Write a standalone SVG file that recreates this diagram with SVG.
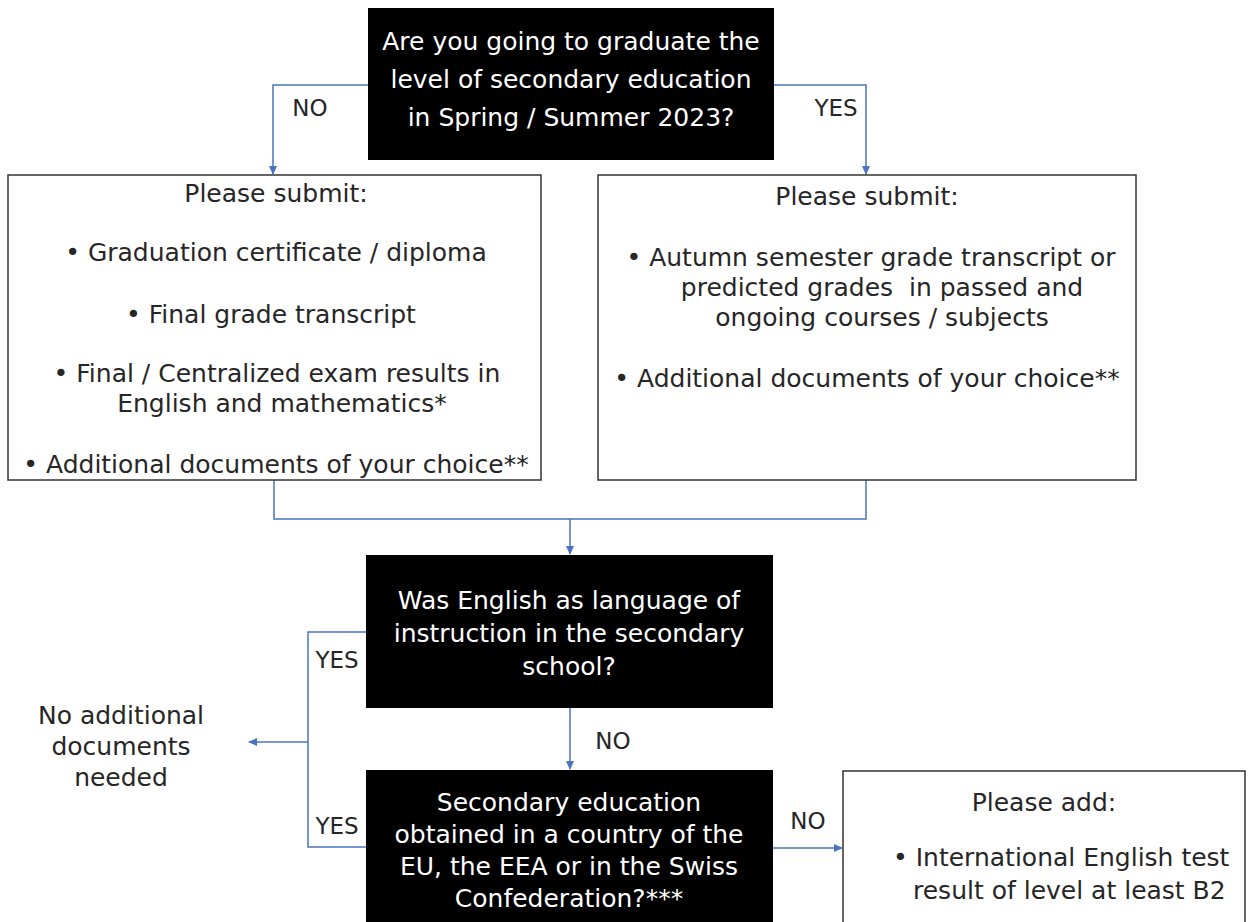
<svg xmlns="http://www.w3.org/2000/svg" width="1253" height="922" viewBox="0 0 1253 922">
<style>
.dark{fill:#000}
.box{fill:#fff;stroke:#333;stroke-width:1.5}
.wt{fill:#fff;font-family:"DejaVu Sans","Liberation Sans",sans-serif;font-size:25px;text-anchor:middle}
.bt{fill:#262626;font-family:"DejaVu Sans","Liberation Sans",sans-serif;font-size:25px;text-anchor:middle}
.st{text-anchor:start}
.lbl{fill:#262626;font-family:"DejaVu Sans","Liberation Sans",sans-serif;font-size:23px;text-anchor:middle}
.c{fill:none;stroke:#4A74C0;stroke-width:1.5}
</style>
<defs>
<marker id="ah" markerWidth="10" markerHeight="10" refX="8" refY="5" orient="auto" markerUnits="userSpaceOnUse">
<path d="M0,1 L9,5 L0,9 Z" fill="#4A74C0"/>
</marker>
</defs>
<rect width="1253" height="922" fill="#fff"/>
<g id="connectors">
<polyline class="c" points="368,85 273,85 273,174" marker-end="url(#ah)"/>
<polyline class="c" points="774,85 866,85 866,174" marker-end="url(#ah)"/>
<polyline class="c" points="274,480 274,519 866,519 866,480"/>
<line class="c" x1="570" y1="519" x2="570" y2="554" marker-end="url(#ah)"/>
<line class="c" x1="570" y1="708" x2="570" y2="769" marker-end="url(#ah)"/>
<polyline class="c" points="366,632 308,632 308,847 366,847"/>
<line class="c" x1="308" y1="742" x2="249" y2="742" marker-end="url(#ah)"/>
<line class="c" x1="772" y1="848" x2="842" y2="848" marker-end="url(#ah)"/>
<text class="lbl" x="310" y="116">NO</text>
<text class="lbl" x="836" y="116">YES</text>
<text class="lbl" x="337" y="668">YES</text>
<text class="lbl" x="337" y="834">YES</text>
<text class="lbl" x="613" y="749">NO</text>
<text class="lbl" x="808" y="829">NO</text>
</g>
<g id="q1">
<rect class="dark" x="368" y="8" width="406" height="152"/>
<text class="wt" x="571" y="50">Are you going to graduate the</text>
<text class="wt" x="571" y="88">level of secondary education</text>
<text class="wt" x="571" y="126">in Spring / Summer 2023?</text>
</g>
<g id="submit-no">
<rect class="box" x="8" y="175" width="533" height="305"/>
<text class="bt" x="276" y="202">Please submit:</text>
<text class="bt" x="276" y="261">• Graduation certificate / diploma</text>
<text class="bt" x="271" y="323">• Final grade transcript</text>
<text class="bt" x="277" y="382">• Final / Centralized exam results in</text>
<text class="bt" x="282" y="412">English and mathematics*</text>
<text class="bt" x="276" y="473">• Additional documents of your choice**</text>
</g>
<g id="submit-yes">
<rect class="box" x="598" y="175" width="538" height="305"/>
<text class="bt" x="867" y="205">Please submit:</text>
<text class="bt" x="871" y="266">• Autumn semester grade transcript or</text>
<text class="bt" x="882" y="296" xml:space="preserve">predicted grades  in passed and</text>
<text class="bt" x="882" y="326">ongoing courses / subjects</text>
<text class="bt" x="867" y="387">• Additional documents of your choice**</text>
</g>
<g id="q2">
<rect class="dark" x="366" y="555" width="407" height="153"/>
<text class="wt" x="569" y="609">Was English as language of</text>
<text class="wt" x="569" y="642">instruction in the secondary</text>
<text class="wt" x="569" y="675">school?</text>
</g>
<g id="no-docs">
<text class="bt" x="121" y="724">No additional</text>
<text class="bt" x="121" y="755">documents</text>
<text class="bt" x="121" y="786">needed</text>
</g>
<g id="q3">
<rect class="dark" x="366" y="770" width="407" height="160"/>
<text class="wt" x="569" y="811">Secondary education</text>
<text class="wt" x="569" y="843">obtained in a country of the</text>
<text class="wt" x="569" y="875">EU, the EEA or in the Swiss</text>
<text class="wt" x="569" y="907">Confederation?***</text>
</g>
<g id="add">
<rect class="box" x="843" y="771" width="402" height="160"/>
<text class="bt" x="1044" y="811">Please add:</text>
<text class="bt st" x="893" y="866">• International English test</text>
<text class="bt st" x="913" y="899">result of level at least B2</text>
</g>
</svg>
